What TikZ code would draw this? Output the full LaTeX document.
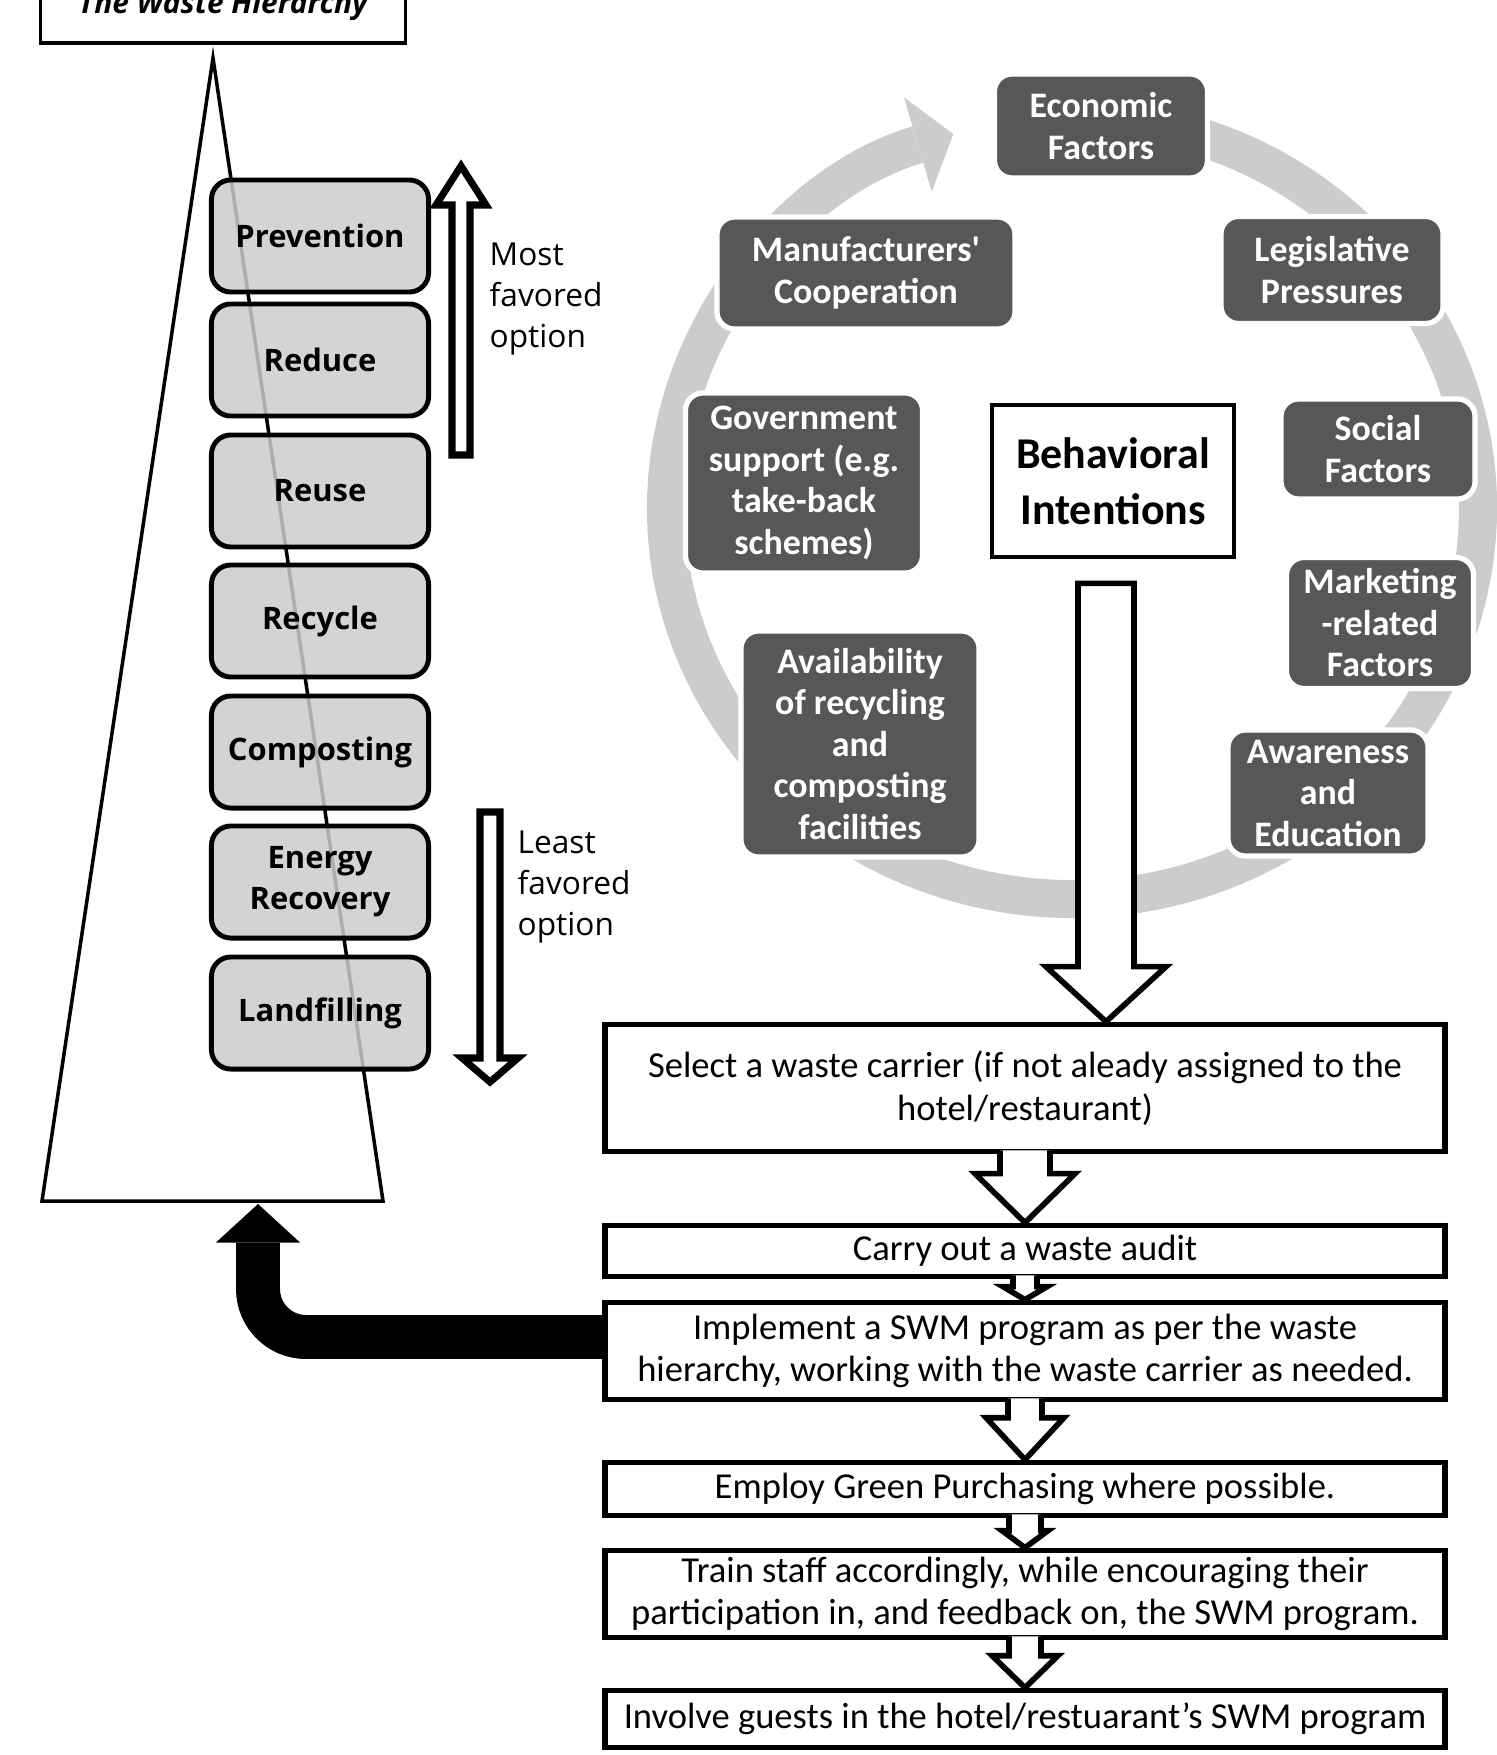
\documentclass[tikz,border=0pt]{standalone}
\usepackage{fontspec}
\setmainfont{Carlito}
\newfontfamily\hierfont{Open Sans}
\usetikzlibrary{arrows.meta,calc}

% hollow block arrow from #2 to #3: shaft half width #4, head half width #5, head length #6
\newcommand\hollowarrow[6][]{%
  \draw[hollow,#1] ($(#2)+(-#4,-4)$) -- ($(#2 |- #3)+(-#4,{-(#6)})$) -- ($(#2 |- #3)+(-#5,{-(#6)})$)
    -- (#2 |- #3) -- ($(#2 |- #3)+(#5,{-(#6)})$) -- ($(#2 |- #3)+(#4,{-(#6)})$) -- ($(#2)+(#4,-4)$)}

\begin{document}
\begin{tikzpicture}[x=0.01cm, y=-0.01cm,
    hierbox/.style={draw, line width=1.4pt, rounded corners=5.5pt, fill=black!20, fill opacity=0.85,
      text opacity=1, minimum width=2.17cm, minimum height=1.12cm, inner sep=1pt, align=center,
      font=\hierfont\bfseries\fontsize{8.8}{11.7}\selectfont},
    factor/.style={draw=white, line width=1.5pt, rounded corners=5pt, fill=black!66, text=white,
      inner sep=1pt, align=center, font=\bfseries\fontsize{10.2}{11.8}\selectfont},
    stepbox/.style={draw, line width=1.6pt, fill=white, minimum width=8.4cm, inner sep=1pt,
      align=center, font=\fontsize{10.4}{12.1}\selectfont},
    sidelabel/.style={inner sep=0pt, align=left, font=\hierfont\fontsize{9}{11.6}\selectfont},
    hollow/.style={draw, line width=1.6pt, fill=white, line join=miter},
    ring/.style={draw=black!20, line width=10.8pt, -{Triangle[width=28pt, length=10.5pt, line width=0pt]}},
    feedback/.style={draw=black, line width=12.5pt, rounded corners=0.48cm,
      -{Triangle[width=24pt, length=11pt, line width=0pt]}}]
  \useasboundingbox (0,0) rectangle (1496,1755);

  % The waste hierarchy
  \node[draw, line width=0.9pt, minimum width=3.64cm, minimum height=0.74cm,
    font=\hierfont\bfseries\itshape\fontsize{8.5}{10}\selectfont] (title) at (223,6) {The Waste Hierarchy};
  \draw[fill=white, line width=1pt, line join=miter] (213,58) -- (383,1201) -- (42,1201) -- cycle;
  \coordinate (pyrbase) at (258,1204);

  \node[hierbox] (prev) at (320,236) {Prevention};
  \node[hierbox] (red) at (320,360) {Reduce};
  \node[hierbox] (reuse) at (320,491) {Reuse};
  \node[hierbox] (recyc) at (320,621) {Recycle};
  \node[hierbox] (comp) at (320,752) {Composting};
  \node[hierbox] (energy) at (320,882) {Energy\\Recovery};
  \node[hierbox] (land) at (320,1013) {Landfilling};

  % Most / least favored arrows
  \coordinate (mostbot) at (461,459);
  \coordinate (mosttop) at (461,166);
  \hollowarrow[line width=2pt]{mostbot}{mosttop}{9}{25}{-39} -- cycle;
  \node[sidelabel, anchor=west] (mostlbl) at (489,299) {Most\\favored\\option};
  \coordinate (leasttop) at (490,816);
  \coordinate (leastbot) at (490,1082);
  \hollowarrow[line width=2pt]{leasttop}{leastbot}{10}{28}{24} -- cycle;
  \node[sidelabel, anchor=west] (leastlbl) at (517,887) {Least\\favored\\option};

  % Cycle of factors
  \draw[ring] (1072,508) ++(-80:406 and 391) arc[start angle=-80, end angle=253, x radius=406, y radius=391];
  \node[factor, minimum width=2.13cm, minimum height=1.04cm] (econ) at (1101,126) {Economic\\Factors};
  \node[factor, minimum width=2.98cm, minimum height=1.12cm] (manu) at (866,273) {Manufacturers\textquotesingle\\Cooperation};
  \node[factor, minimum width=2.22cm, minimum height=1.07cm] (legis) at (1332,270) {Legislative\\Pressures};
  \node[factor, minimum width=2.37cm, minimum height=1.80cm] (gov) at (804,483) {Government\\support (e.g.\\take-back\\schemes)};
  \node[factor, minimum width=1.94cm, minimum height=1.00cm] (social) at (1378,449) {Social\\Factors};
  \node[factor, minimum width=1.87cm, minimum height=1.31cm] (market) at (1380,623) {Marketing\\-related\\Factors};
  \node[factor, minimum width=2.38cm, minimum height=2.26cm] (avail) at (860,744) {Availability\\of recycling\\and\\composting\\facilities};
  \node[factor, minimum width=2.00cm, minimum height=1.26cm] (aware) at (1328,793) {Awareness\\and\\Education};
  \node[draw, line width=1.3pt, fill=white, minimum width=2.42cm, minimum height=1.52cm, align=center,
    font=\bfseries\fontsize{12.5}{16}\selectfont] (bi) at (1113,481) {Behavioral\\Intentions};

  % SWM steps
  \node[stepbox, minimum height=1.27cm] (sel) at (1025,1088) {Select a waste carrier (if not aleady assigned to the\\hotel/restaurant)};
  \node[stepbox, minimum height=0.51cm] (aud) at (1025,1251) {Carry out a waste audit};
  \node[stepbox, minimum height=0.97cm] (impl) at (1025,1351) {Implement a SWM program as per the waste\\hierarchy, working with the waste carrier as needed.};
  \node[stepbox, minimum height=0.53cm] (green) at (1025,1489) {Employ Green Purchasing where possible.};
  \node[stepbox, minimum height=0.87cm] (train) at (1025,1594) {Train staff accordingly, while encouraging their\\participation in, and feedback on, the SWM program.};
  \node[stepbox, minimum height=0.57cm] (guest) at (1025,1719) {Involve guests in the hotel/restuarant’s SWM program};

  % Arrows
  \coordinate (bistart) at ($(bi.south)+(-7,28)$);
  \hollowarrow{bistart}{sel.north}{28}{60}{55} -- cycle;
  \foreach \a/\b/\s/\h/\l in {sel/aud/25/50/49, aud/impl/12/22/13, impl/green/17/39/42,
      green/train/16/23/17, train/guest/16/33/32}
    \hollowarrow{\a.south}{\b.north}{\s}{\h}{\l};
  \coordinate (fbstart) at ($(impl.west)+(2,-14)$);
  \draw[feedback] (fbstart) -| (pyrbase);
\end{tikzpicture}
\end{document}
